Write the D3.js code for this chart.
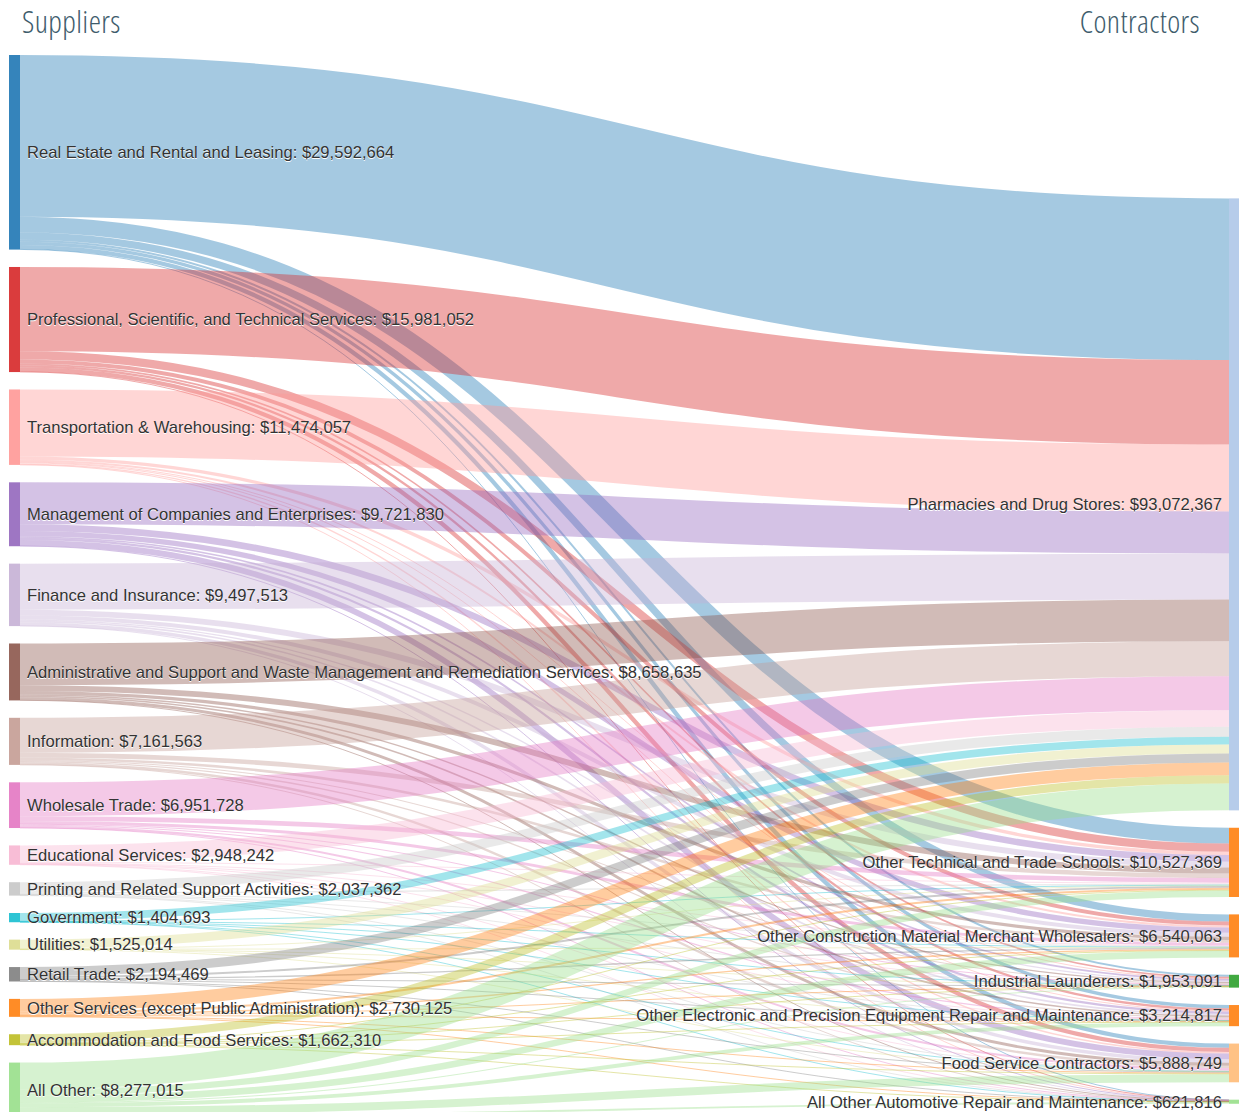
<!DOCTYPE html>
<meta charset="utf-8">
<style>
  body { margin: 0; background: #fff; }
  .title { font-family: "Open Sans", sans-serif; font-weight: 300; font-size: 31px; letter-spacing: 0.4px; fill: #3e5c6c; font-stretch: condensed; }
  .node text { font-family: "Liberation Sans", Arial, sans-serif; font-size: 16.6px; fill: #333; text-shadow: 0 1px 0 #fff; }
  .link { fill: none; stroke-opacity: 0.4; }
</style>

<div id="my_dataviz"></div>

<script src="https://d3js.org/d3.v7.min.js"></script>
<script>

// suppliers (left column), top to bottom
var suppliers = [
  "Real Estate and Rental and Leasing",
  "Professional, Scientific, and Technical Services",
  "Transportation & Warehousing",
  "Management of Companies and Enterprises",
  "Finance and Insurance",
  "Administrative and Support and Waste Management and Remediation Services",
  "Information",
  "Wholesale Trade",
  "Educational Services",
  "Printing and Related Support Activities",
  "Government",
  "Utilities",
  "Retail Trade",
  "Other Services (except Public Administration)",
  "Accommodation and Food Services",
  "All Other"
];

// contractors (right column), top to bottom
var contractors = [
  "Pharmacies and Drug Stores",
  "Other Technical and Trade Schools",
  "Other Construction Material Merchant Wholesalers",
  "Industrial Launderers",
  "Other Electronic and Precision Equipment Repair and Maintenance",
  "Food Service Contractors",
  "All Other Automotive Repair and Maintenance"
];

// dollars from each supplier (row) to each contractor (column, same order as contractors)
var flows = [
  [24592664, 2400000, 1100000, 300000, 500000, 650000, 50000],
  [12831052, 1250000, 600000, 250000, 350000, 650000, 50000],
  [10194057, 500000, 300000, 100000, 150000, 210000, 20000],
  [6391830, 1000000, 800000, 250000, 350000, 890000, 40000],
  [6997513, 900000, 600000, 200000, 250000, 520000, 30000],
  [6338635, 900000, 500000, 200000, 250000, 440000, 30000],
  [5321563, 700000, 400000, 150000, 200000, 370000, 20000],
  [5171728, 700000, 450000, 120000, 180000, 310000, 20000],
  [2518242, 150000, 100000, 30000, 50000, 90000, 10000],
  [1517362, 200000, 120000, 40000, 60000, 90000, 10000],
  [1174693, 80000, 50000, 20000, 30000, 40000, 10000],
  [1365014, 60000, 40000, 10000, 20000, 30000, 0],
  [1374469, 300000, 200000, 60000, 100000, 140000, 20000],
  [1930125, 300000, 200000, 60000, 90000, 130000, 20000],
  [1262310, 120000, 80000, 30000, 50000, 110000, 10000],
  [4091110, 967369, 1000063, 133091, 584817, 1218749, 281816]
];

// colour is picked by the first word of the name
var colorKeys = ["Real", "Pharmacies", "Other", "Food", "Industrial", "All", "Professional",
  "Transportation", "Management", "Finance", "Administrative", "Information", "Wholesale",
  "Educational", "Retail", "Printing", "Accommodation", "Utilities", "Government"];
var category20 = ["#1f77b4", "#aec7e8", "#ff7f0e", "#ffbb78", "#2ca02c", "#98df8a", "#d62728",
  "#ff9896", "#9467bd", "#c5b0d5", "#8c564b", "#c49c94", "#e377c2", "#f7b6d2", "#7f7f7f",
  "#c7c7c7", "#bcbd22", "#dbdb8d", "#17becf", "#9edae5"];
var color = d3.scaleOrdinal().domain(colorKeys).range(category20);
function colorOf(name) { return color(name.replace(/[ ,].*/, "")); }

var width = 1239, height = 1112;
var margin = {top: 55, left: 9};
var size = [1231, 1062];   // layout area
var nodeWidth = 11, nodePadding = 17.4, iterations = 32;

var svg = d3.select("#my_dataviz")
  .append("svg")
    .attr("width", width)
    .attr("height", height)
  .append("g")
    .attr("transform", "translate(" + margin.left + "," + margin.top + ")");

// ---- build graph ----
var nodes = suppliers.map(function(name, i) {
  return {name: name, layer: 0, sourceLinks: [], targetLinks: []};
}).concat(contractors.map(function(name) {
  return {name: name, layer: 1, sourceLinks: [], targetLinks: []};
}));
var links = [];
flows.forEach(function(row, i) {
  row.forEach(function(v, j) {
    if (v > 0) links.push({source: nodes[i], target: nodes[suppliers.length + j], value: v});
  });
});
links.forEach(function(l) { l.source.sourceLinks.push(l); l.target.targetLinks.push(l); });
function value(d) { return d.value; }
nodes.forEach(function(n) {
  n.value = Math.max(d3.sum(n.sourceLinks, value), d3.sum(n.targetLinks, value));
});
var columns = [nodes.filter(function(n) { return n.layer === 0; }),
               nodes.filter(function(n) { return n.layer === 1; })];

// ---- layout (classic sankey relaxation) ----
var kx = (size[0] - nodeWidth) / (columns.length - 1);
nodes.forEach(function(n) { n.x = n.layer * kx; n.dx = nodeWidth; });

var ky = d3.min(columns, function(ns) {
  return (size[1] - (ns.length - 1) * nodePadding) / d3.sum(ns, value);
});
columns.forEach(function(ns) {
  ns.forEach(function(n, i) { n.y = i; n.dy = n.value * ky; });
});
links.forEach(function(l) { l.dy = l.value * ky; });

function center(n) { return n.y + n.dy / 2; }

function resolveCollisions() {
  columns.forEach(function(ns) {
    var node, dy, y0 = 0, n = ns.length, i;
    for (i = 0; i < n; ++i) {
      node = ns[i];
      dy = y0 - node.y;
      if (dy > 0) node.y += dy;
      y0 = node.y + node.dy + nodePadding;
    }
    dy = y0 - nodePadding - size[1];
    if (dy > 0) {
      y0 = node.y -= dy;
      for (i = n - 2; i >= 0; --i) {
        node = ns[i];
        dy = node.y + node.dy + nodePadding - y0;
        if (dy > 0) node.y -= dy;
        y0 = node.y;
      }
    }
  });
}
function relaxLeftToRight(alpha) {
  columns[1].forEach(function(node) {
    var y = d3.sum(node.targetLinks, function(l) { return center(l.source) * l.value; }) /
            d3.sum(node.targetLinks, value);
    node.y += (y - center(node)) * alpha;
  });
}
function relaxRightToLeft(alpha) {
  columns[0].forEach(function(node) {
    var y = d3.sum(node.sourceLinks, function(l) { return center(l.target) * l.value; }) /
            d3.sum(node.sourceLinks, value);
    node.y += (y - center(node)) * alpha;
  });
}

resolveCollisions();
for (var alpha = 1, it = iterations; it > 0; --it) {
  relaxRightToLeft(alpha *= 0.99);
  resolveCollisions();
  relaxLeftToRight(alpha);
  resolveCollisions();
}

// link stacking inside each node
nodes.forEach(function(n) {
  n.sourceLinks.sort(function(a, b) { return a.target.y - b.target.y; });
  n.targetLinks.sort(function(a, b) { return a.source.y - b.source.y; });
});
nodes.forEach(function(n) {
  var sy = 0, ty = 0;
  n.sourceLinks.forEach(function(l) { l.sy = sy; sy += l.dy; });
  n.targetLinks.forEach(function(l) { l.ty = ty; ty += l.dy; });
});

// ---- draw ----
var linkPath = d3.linkHorizontal()
  .source(function(d) { return [d.source.x + d.source.dx, d.source.y + d.sy + d.dy / 2]; })
  .target(function(d) { return [d.target.x, d.target.y + d.ty + d.dy / 2]; });

svg.append("g")
  .selectAll("path")
  .data(links)
  .enter()
  .append("path")
    .attr("class", "link")
    .attr("d", linkPath)
    .attr("stroke", function(d) { return colorOf(d.source.name); })
    .attr("stroke-width", function(d) { return Math.max(1, d.dy); });

var fmt = d3.format("$,");
var node = svg.append("g")
  .selectAll("g")
  .data(nodes)
  .enter()
  .append("g")
    .attr("class", "node")
    .attr("transform", function(d) { return "translate(" + d.x + "," + d.y + ")"; });

node.append("rect")
    .attr("width", function(d) { return d.dx; })
    .attr("height", function(d) { return Math.max(1, d.dy); })
    .style("fill", function(d) { return colorOf(d.name); })
    .style("fill-opacity", 0.9);

node.append("text")
    .attr("x", function(d) { return d.layer === 0 ? d.dx + 7 : -7; })
    .attr("y", function(d) { return d.dy / 2; })
    .attr("dy", "0.35em")
    .attr("text-anchor", function(d) { return d.layer === 0 ? "start" : "end"; })
    .text(function(d) { return d.name + ": " + fmt(d.value); });

// column headings
svg.append("text").attr("class", "title").attr("x", 13).attr("y", -22).text("Suppliers");
svg.append("text").attr("class", "title").attr("x", 1191).attr("y", -22)
  .attr("text-anchor", "end").text("Contractors");

</script>
